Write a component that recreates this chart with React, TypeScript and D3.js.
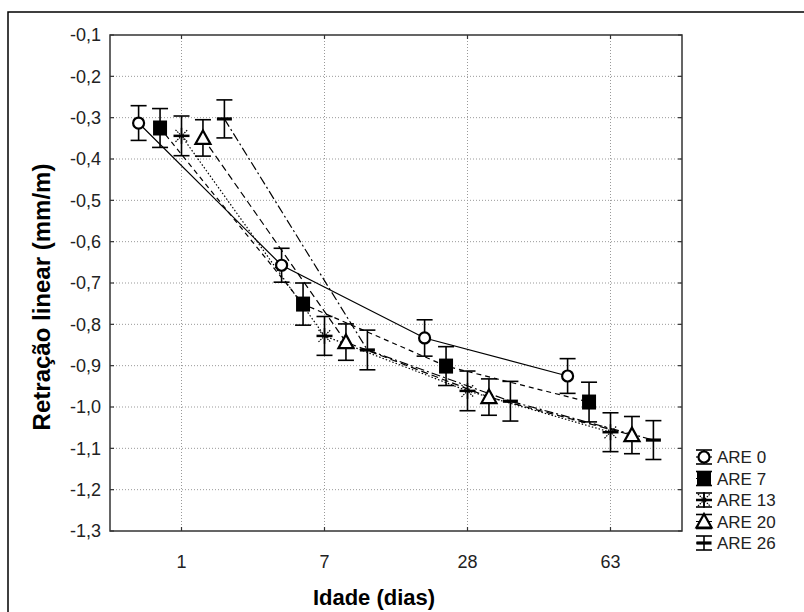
import React from 'react';
import * as d3 from 'd3';

// ---- data ----
const categories: string[] = ['1', '7', '28', '63'];
const seriesNames: string[] = ['ARE 0', 'ARE 7', 'ARE 13', 'ARE 20', 'ARE 26'];
const are0Mean: number[] = [-0.313, -0.657, -0.833, -0.925];
const are7Mean: number[] = [-0.325, -0.751, -0.901, -0.988];
const are13Mean: number[] = [-0.344, -0.828, -0.961, -1.061];
const are20Mean: number[] = [-0.349, -0.843, -0.976, -1.068];
const are26Mean: number[] = [-0.303, -0.862, -0.986, -1.080];
const are0Err: number[] = [0.042, 0.041, 0.044, 0.042];
const are7Err: number[] = [0.047, 0.051, 0.047, 0.048];
const are13Err: number[] = [0.048, 0.047, 0.048, 0.047];
const are20Err: number[] = [0.044, 0.044, 0.044, 0.045];
const are26Err: number[] = [0.046, 0.048, 0.048, 0.047];
const yTicks: number[] = [-0.1, -0.2, -0.3, -0.4, -0.5, -0.6, -0.7, -0.8, -0.9, -1.0, -1.1, -1.2, -1.3];
const xTitle = 'Idade (dias)';
const yTitle = 'Retração linear (mm/m)';

const means = [are0Mean, are7Mean, are13Mean, are20Mean, are26Mean];
const errs = [are0Err, are7Err, are13Err, are20Err, are26Err];

// ---- layout / style ----
const W = 804, H = 612;
const L = 110, R = 682, T = 35, B = 531;
const seriesOffset = [-0.3, -0.15, 0, 0.15, 0.3];
const dashes: (string | undefined)[] = [undefined, '5,4', '1.5,2', '7,4', '9,3,2,3'];
const FONT = '"Liberation Sans", Arial, sans-serif';

const xScale = d3.scaleLinear().domain([-0.5, 3.5]).range([L, R]);
const yScale = d3.scaleLinear().domain([-1.3, -0.1]).range([B, T]);
const fmt = (v: number) => v.toFixed(1).replace('.', ',');

function Marker({ kind, cx, cy }: { kind: number; cx: number; cy: number }) {
  if (kind === 0) return <circle cx={cx} cy={cy} r={5.5} fill="#fff" stroke="#000" strokeWidth={2.2} />;
  if (kind === 1) return <rect x={cx - 7} y={cy - 7.5} width={14} height={15} fill="#000" />;
  if (kind === 2) {
    const r = 8;
    return (
      <g stroke="#000">
        <line x1={cx - r} y1={cy} x2={cx + r} y2={cy} strokeWidth={2.5} />
        <line x1={cx} y1={cy - r} x2={cx} y2={cy + r} strokeWidth={1.5} />
        <line x1={cx - r * 0.75} y1={cy - r * 0.75} x2={cx + r * 0.75} y2={cy + r * 0.75} strokeWidth={1.2} strokeDasharray="1.5,1" />
        <line x1={cx - r * 0.75} y1={cy + r * 0.75} x2={cx + r * 0.75} y2={cy - r * 0.75} strokeWidth={1.2} strokeDasharray="1.5,1" />
      </g>
    );
  }
  if (kind === 3) {
    const s = 7.5;
    return <path d={`M${cx},${cy - s} L${cx + s},${cy + s * 0.8} L${cx - s},${cy + s * 0.8} Z`} fill="#fff" stroke="#000" strokeWidth={2.2} />;
  }
  return <line x1={cx - 7.5} y1={cy} x2={cx + 7.5} y2={cy} stroke="#000" strokeWidth={3.2} />;
}

function ErrBar({ cx, y1, y2, cap }: { cx: number; y1: number; y2: number; cap: number }) {
  return (
    <g stroke="#000" strokeWidth={1.6}>
      <line x1={cx} y1={y1} x2={cx} y2={y2} />
      <line x1={cx - cap} y1={y1} x2={cx + cap} y2={y1} />
      <line x1={cx - cap} y1={y2} x2={cx + cap} y2={y2} />
    </g>
  );
}

export default function App() {
  const line = d3.line<[number, number]>().x(d => d[0]).y(d => d[1]);
  const legendX = 704;
  const legendY0 = 457;
  const legendDy = 21.5;

  return (
    <svg width={W} height={H} style={{ position: 'absolute', left: 0, top: 0, display: 'block', background: '#fff' }}>
      <rect x={0} y={0} width={W} height={H} fill="#fff" />
      {/* outer frame */}
      <rect x={8} y={12} width={W + 20} height={H + 20} fill="none" stroke="#000" strokeWidth={1.5} />

      {/* grid */}
      <g stroke="#999" strokeWidth={1} strokeDasharray="1,2">
        {yTicks.slice(1, -1).map(t => (
          <line key={'gy' + t} x1={L} x2={R} y1={yScale(t)} y2={yScale(t)} />
        ))}
        {categories.map((c, i) => (
          <line key={'gx' + c} x1={xScale(i)} x2={xScale(i)} y1={T} y2={B} />
        ))}
      </g>

      {/* ticks inward */}
      <g stroke="#333" strokeWidth={1.2}>
        {yTicks.map(t => (
          <g key={'ty' + t}>
            <line x1={L} x2={L + 4} y1={yScale(t)} y2={yScale(t)} />
            <line x1={R - 4} x2={R} y1={yScale(t)} y2={yScale(t)} />
          </g>
        ))}
        {categories.map((c, i) => (
          <g key={'tx' + c}>
            <line x1={xScale(i)} x2={xScale(i)} y1={B} y2={B - 4} />
            <line x1={xScale(i)} x2={xScale(i)} y1={T} y2={T + 4} />
          </g>
        ))}
      </g>

      {/* plot frame */}
      <rect x={L} y={T} width={R - L} height={B - T} fill="none" stroke="#333" strokeWidth={1.5} />

      {/* y tick labels */}
      <g fontFamily={FONT} fontSize={18} fill="#222" textAnchor="end">
        {yTicks.map(t => (
          <text key={'ly' + t} x={L - 9} y={yScale(t)} dy="0.36em">{fmt(t)}</text>
        ))}
      </g>
      {/* x tick labels */}
      <g fontFamily={FONT} fontSize={18} fill="#222" textAnchor="middle">
        {categories.map((c, i) => (
          <text key={'lx' + c} x={xScale(i)} y={B + 37}>{c}</text>
        ))}
      </g>

      {/* axis titles */}
      <text x={(L + R) / 2 - 22} y={605} fontFamily={FONT} fontSize={22} fontWeight="bold" textAnchor="middle" fill="#000">{xTitle}</text>
      <text transform={`translate(50,${(T + B) / 2 + 14}) rotate(-90)`} fontFamily={FONT} fontSize={24} fontWeight="bold" textAnchor="middle" fill="#000">{yTitle}</text>

      {/* series lines */}
      {means.map((m, s) => (
        <path
          key={'line' + s}
          d={line(m.map((v, i) => [xScale(i + seriesOffset[s]), yScale(v)] as [number, number])) || ''}
          fill="none"
          stroke="#000"
          strokeWidth={1.2}
          strokeDasharray={dashes[s]}
        />
      ))}

      {/* error bars + markers */}
      {means.map((m, s) => (
        <g key={'pts' + s}>
          {m.map((v, i) => {
            const cx = xScale(i + seriesOffset[s]);
            return (
              <g key={i}>
                <ErrBar cx={cx} y1={yScale(v + errs[s][i])} y2={yScale(v - errs[s][i])} cap={8} />
                <Marker kind={s} cx={cx} cy={yScale(v)} />
              </g>
            );
          })}
        </g>
      ))}

      {/* legend */}
      {seriesNames.map((name, s) => {
        const cy = legendY0 + s * legendDy;
        return (
          <g key={'lg' + name}>
            <line x1={legendX - 8} x2={legendX + 8} y1={cy} y2={cy} stroke="#000" strokeWidth={1.2} strokeDasharray={dashes[s]} />
            <ErrBar cx={legendX} y1={cy - 7} y2={cy + 7} cap={8} />
            <Marker kind={s} cx={legendX} cy={cy} />
            <text x={legendX + 13} y={cy} dy="0.36em" fontFamily={FONT} fontSize={17} fill="#222">{name}</text>
          </g>
        );
      })}
    </svg>
  );
}
